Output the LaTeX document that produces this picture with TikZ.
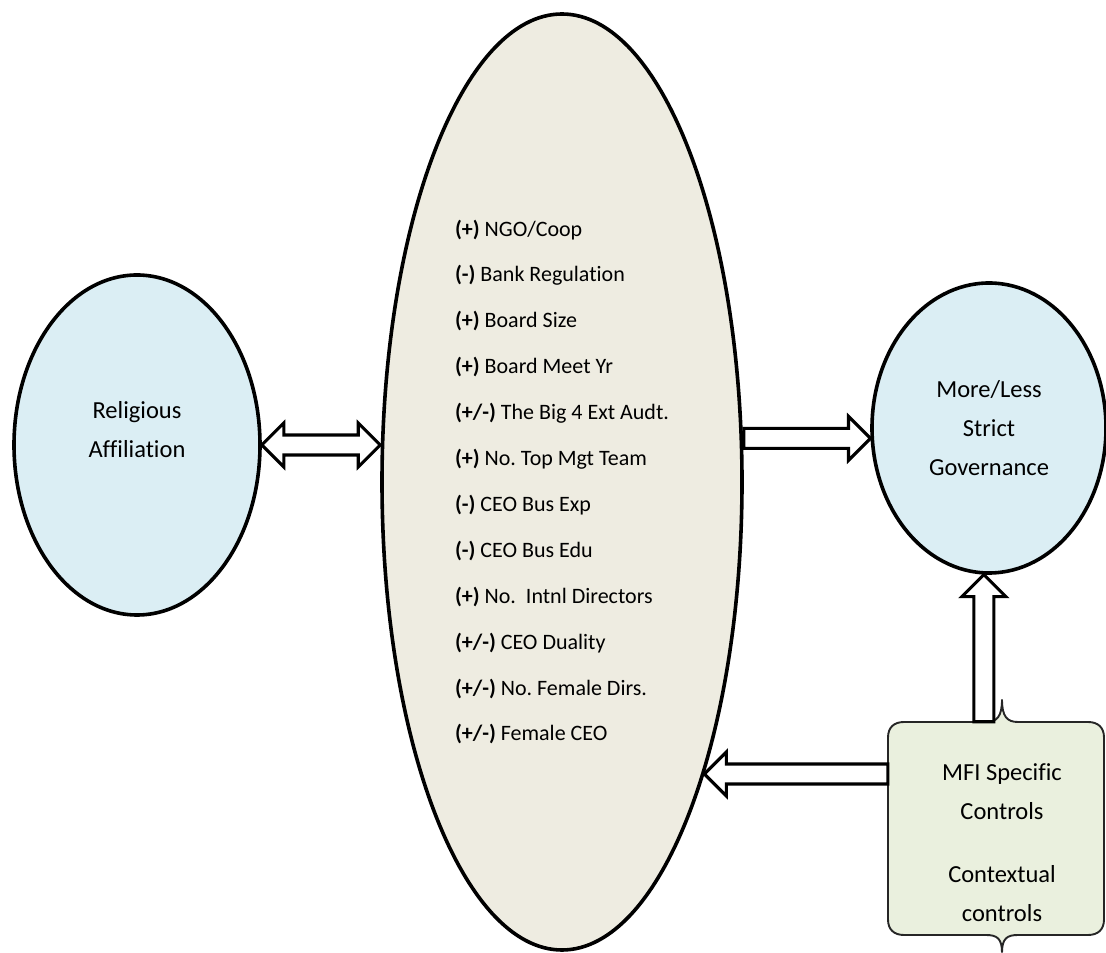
\documentclass[tikz,border=0pt]{standalone}
\usepackage{fontspec}
\setmainfont{Carlito}[Ligatures=NoCommon]
\usetikzlibrary{shapes.geometric, calc}
\frenchspacing

\definecolor{paleblue}{RGB}{219,238,244}
\definecolor{paletan}{RGB}{238,236,225}
\definecolor{palegreen}{RGB}{234,240,222}

% hollow block arrows between two named points
\newcommand{\onearrow}[2]{%
  \coordinate (hb) at ($(#2)!22pt!(#1)$);
  \draw[blockarrow] ($(#1)!10pt!90:(#2)$) -- ($(hb)!10pt!90:(#2)$) -- ($(hb)!22pt!90:(#2)$) -- (#2)
    -- ($(hb)!22pt!-90:(#2)$) -- ($(hb)!10pt!-90:(#2)$) -- ($(#1)!10pt!-90:(#2)$) -- cycle;}
\newcommand{\twoarrow}[2]{%
  \coordinate (ha) at ($(#1)!22pt!(#2)$);
  \coordinate (hb) at ($(#2)!22pt!(#1)$);
  \draw[blockarrow] (#1) -- ($(ha)!22pt!90:(#2)$) -- ($(ha)!10pt!90:(#2)$) -- ($(hb)!10pt!90:(#2)$)
    -- ($(hb)!22pt!90:(#2)$) -- (#2) -- ($(hb)!22pt!-90:(#2)$) -- ($(hb)!10pt!-90:(#2)$)
    -- ($(ha)!10pt!-90:(#2)$) -- ($(ha)!22pt!-90:(#2)$) -- cycle;}

\begin{document}
\begin{tikzpicture}[
    x=1pt, y=1pt,
    oval/.style={ellipse, draw, line width=3.6pt, inner sep=0pt},
    bigtext/.style={font=\fontsize{24.5}{39}\selectfont, align=center},
    listtext/.style={font=\fontsize{22}{45.9}\selectfont, align=left},
    blockarrow/.style={draw, fill=white, line width=3.1pt, line join=miter}
]
    \useasboundingbox[fill=white] (0,0) rectangle (1106,953);

    \node[oval, fill=paleblue, minimum width=246pt, minimum height=340pt, bigtext, text depth=31pt] (relig) at (137,508) {Religious\\Affiliation};
    \node[oval, fill=paletan, minimum width=360pt, minimum height=936pt, listtext] (mid) at (562,471) {%
        \textbf{(+)} NGO/Coop\\
        \textbf{(-)} Bank Regulation\\
        \textbf{(+)} Board Size\\
        \textbf{(+)} Board Meet Yr\\
        \textbf{(+/-)} The Big 4 Ext Audt.\\
        \textbf{(+)} No. Top Mgt Team\\
        \textbf{(-)} CEO Bus Exp\\
        \textbf{(-)} CEO Bus Edu\\
        \textbf{(+)} No.\ \ Intnl Directors\\
        \textbf{(+/-)} CEO Duality\\
        \textbf{(+/-)} No. Female Dirs.\\
        \textbf{(+/-)} Female CEO};
    \node[oval, fill=paleblue, minimum width=234pt, minimum height=290pt, bigtext] (gov) at (989,525) {More/Less\\Strict\\Governance};

    % double brace box for the controls
    \node[minimum width=216pt, minimum height=213pt, inner sep=0pt] (ctrl) at (996,124.5) {};
    \begin{scope}[shift={(ctrl.center)}]
        \draw[line width=1.9pt, draw=black!85, fill=palegreen]
            (-108,-91) -- (-108,91) .. controls (-108,101) and (-102,106.5) .. (-92,106.5)
            -- (-10,106.5) .. controls (1,106.5) and (6,112) .. (6,129) .. controls (6,112) and (11,106.5) .. (22,106.5)
            -- (92,106.5) .. controls (102,106.5) and (108,101) .. (108,91)
            -- (108,-91) .. controls (108,-101) and (102,-106.5) .. (92,-106.5)
            -- (22,-106.5) .. controls (11,-106.5) and (6,-110) .. (6,-124) .. controls (6,-110) and (1,-106.5) .. (-10,-106.5)
            -- (-92,-106.5) .. controls (-102,-106.5) and (-108,-101) .. (-108,-91) -- cycle;
    \end{scope}
    \node[bigtext] (ctrltext) at ($(ctrl.center)+(6,-14)$) {MFI Specific\\Controls\\[24pt]Contextual\\controls};

    \coordinate (a1) at (relig.east -| mid.west);
    \coordinate (b1) at (gov.185 -| mid.east);
    \coordinate (c1) at (ctrl.north -| gov.268);
    \coordinate (d1) at (ctrl.west |- mid.296);

    \twoarrow{relig.east}{a1}
    \onearrow{b1}{gov.185}
    \onearrow{c1}{gov.268}
    \onearrow{d1}{mid.296}
\end{tikzpicture}
\end{document}
